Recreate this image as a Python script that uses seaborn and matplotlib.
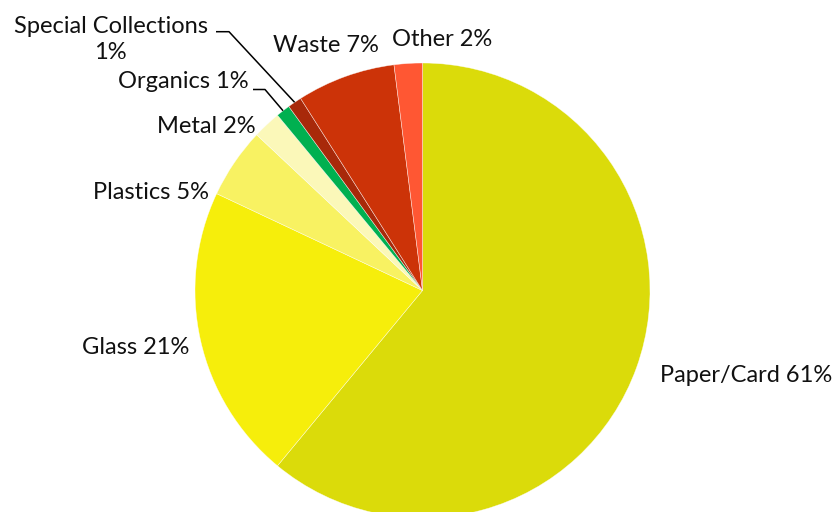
import numpy as np
import matplotlib
matplotlib.use("Agg")
import matplotlib.pyplot as plt
import seaborn as sns

# Share of collected material by stream (percent)
categories = ["Paper/Card", "Glass", "Plastics", "Metal", "Organics",
              "Special Collections", "Waste", "Other"]
shares = [61, 21, 5, 2, 1, 1, 7, 2]
colors = ["#DBDB0A", "#F6EE0B", "#F8F262", "#FBF8B9", "#00B050",
          "#A8290A", "#CC3308", "#FF5733"]

sns.set_theme(style="white")
plt.rcParams["font.family"] = ["Lato", "DejaVu Sans"]

W, H = 838, 512
fig = plt.figure(figsize=(W / 100, H / 100), dpi=100)
ax = fig.add_axes([0, 0, 1, 1])

cx, cy, r = 422.5, H - 290.5, 227.5
wedges, _ = ax.pie(shares, colors=colors, startangle=90, counterclock=False,
                   center=(cx, cy), radius=r, frame=True,
                   wedgeprops=dict(edgecolor="#FFFFFFAA", linewidth=0.4))
ax.set_xlim(0, W)
ax.set_ylim(0, H)
ax.set_aspect("equal")
ax.axis("off")

labels = [f"{c} {v}%" for c, v in zip(categories, shares)]
labels[5] = f"{categories[5]}\n{shares[5]}%"
fs = 17

# label placement (x, y from top, horizontal alignment)
place = {
    0: (660, 375, "left"),
    1: (189, 347, "right"),
    2: (209, 192.5, "right"),
    3: (256, 126.5, "right"),
    4: (249, 81.5, "right"),
    5: (110.5, 39.5, "center"),
    6: (273, 45.5, "left"),
    7: (392, 40, "left"),
}
for i, (x, y, ha) in place.items():
    ax.text(x, H - y, labels[i], ha=ha, va="center", fontsize=fs,
            color="#111111", linespacing=1.3)

# leader lines to the two thin slices
leaders = {4: (253, 265, 89.5), 5: (216, 229, 31.7)}
for i, (x0, x1, y) in leaders.items():
    w = wedges[i]
    mid = np.deg2rad((w.theta1 + w.theta2) / 2)
    ex, ey = cx + r * np.cos(mid), cy + r * np.sin(mid)
    ax.plot([x0, x1, ex], [H - y, H - y, ey], color="black", lw=1.1,
            solid_capstyle="butt")

fig.savefig("out.png", dpi=100, facecolor="white")
